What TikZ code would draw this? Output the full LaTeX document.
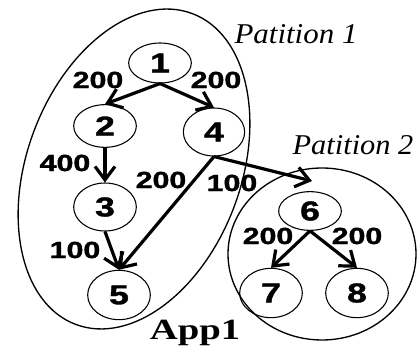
\documentclass[tikz,border=0pt]{standalone}
\usepackage{graphicx}
\usepackage{fontspec}
\setmainfont{Liberation Serif}
\newfontfamily\numfont{Liberation Sans}[BoldFeatures={FakeBold=1.2}]
\usetikzlibrary{arrows.meta,shapes.geometric}

% horizontally widened text
\newcommand\widetext[2][1.3]{\scalebox{#1}[1]{#2}}

\begin{document}
\begin{tikzpicture}[x=0.75pt,y=-0.75pt,
  task/.style={ellipse, draw, line width=0.8pt, inner sep=0pt,
    minimum width=47pt, minimum height=35pt,
    font=\numfont\bfseries\fontsize{20.5}{21}\selectfont},
  cost/.style={inner sep=0pt, font=\numfont\bfseries\fontsize{17.5}{18}\selectfont},
  flow/.style={line width=2.4pt, -{Straight Barb[length=10pt,width=15pt]}},
  part/.style={line width=1pt},
  partlabel/.style={inner sep=0pt, font=\itshape\fontsize{21.5}{22}\selectfont}]

\useasboundingbox (0,0) rectangle (417,352);

% partitions
\draw[part, rotate around={69.5:(134,169)}] (134,169) ellipse [x radius=166, y radius=107];
\draw[part] (322,254) ellipse [x radius=94, y radius=86];

% tasks
\node[task, minimum height=30pt] (n1) at (160,63) {\widetext{1}};
\node[task, minimum height=32pt] (n2) at (105,126) {\widetext{2}};
\node[task, minimum width=46pt, minimum height=36pt] (n4) at (214,132) {\widetext{4}};
\node[task, minimum height=36pt] (n3) at (105,207) {\widetext{3}};
\node[task, minimum height=37pt] (n5) at (119,295) {\widetext{5}};
\node[task, minimum height=29pt] (n6) at (310,211) {\widetext{6}};
\node[task, minimum height=37pt] (n7) at (271,293) {\widetext{7}};
\node[task, minimum height=37pt] (n8) at (357,293) {\widetext{8}};

\coordinate (in6) at (312,181);

% data flows
\draw[flow] (n1.south) -- (n2.north);
\draw[flow] (n1.south) -- (n4.north);
\draw[flow] (n2.south) -- (n3.north);
\draw[flow] (n3.south) -- (n5.north);
\draw[flow] (n4.south) -- (n5.north);
\draw[flow] (n4.south) -- (in6);
\draw[flow] (n6.south) -- (n7.north);
\draw[flow] (n6.south) -- (n8.north);

% communication costs
\node[cost] (c12) at (98,80) {\widetext{200}};
\node[cost] (c14) at (216,80) {\widetext{200}};
\node[cost] (c23) at (65,163) {\widetext{400}};
\node[cost] (c45) at (161,180) {\widetext{200}};
\node[cost] (c46) at (232,183) {\widetext{100}};
\node[cost] (c35) at (75,250) {\widetext{100}};
\node[cost] (c67) at (268,236) {\widetext{200}};
\node[cost] (c68) at (357,236) {\widetext{200}};

% labels
\node[partlabel] (p1) at (296,34) {\widetext[1.08]{Patition 1}};
\node[partlabel] (p2) at (353,145) {\widetext[1.06]{Patition 2}};
\node[inner sep=0pt, font=\bfseries\fontsize{22}{22}\selectfont] (app) at (195,333) {\widetext[1.32]{App1}};
\end{tikzpicture}
\end{document}
